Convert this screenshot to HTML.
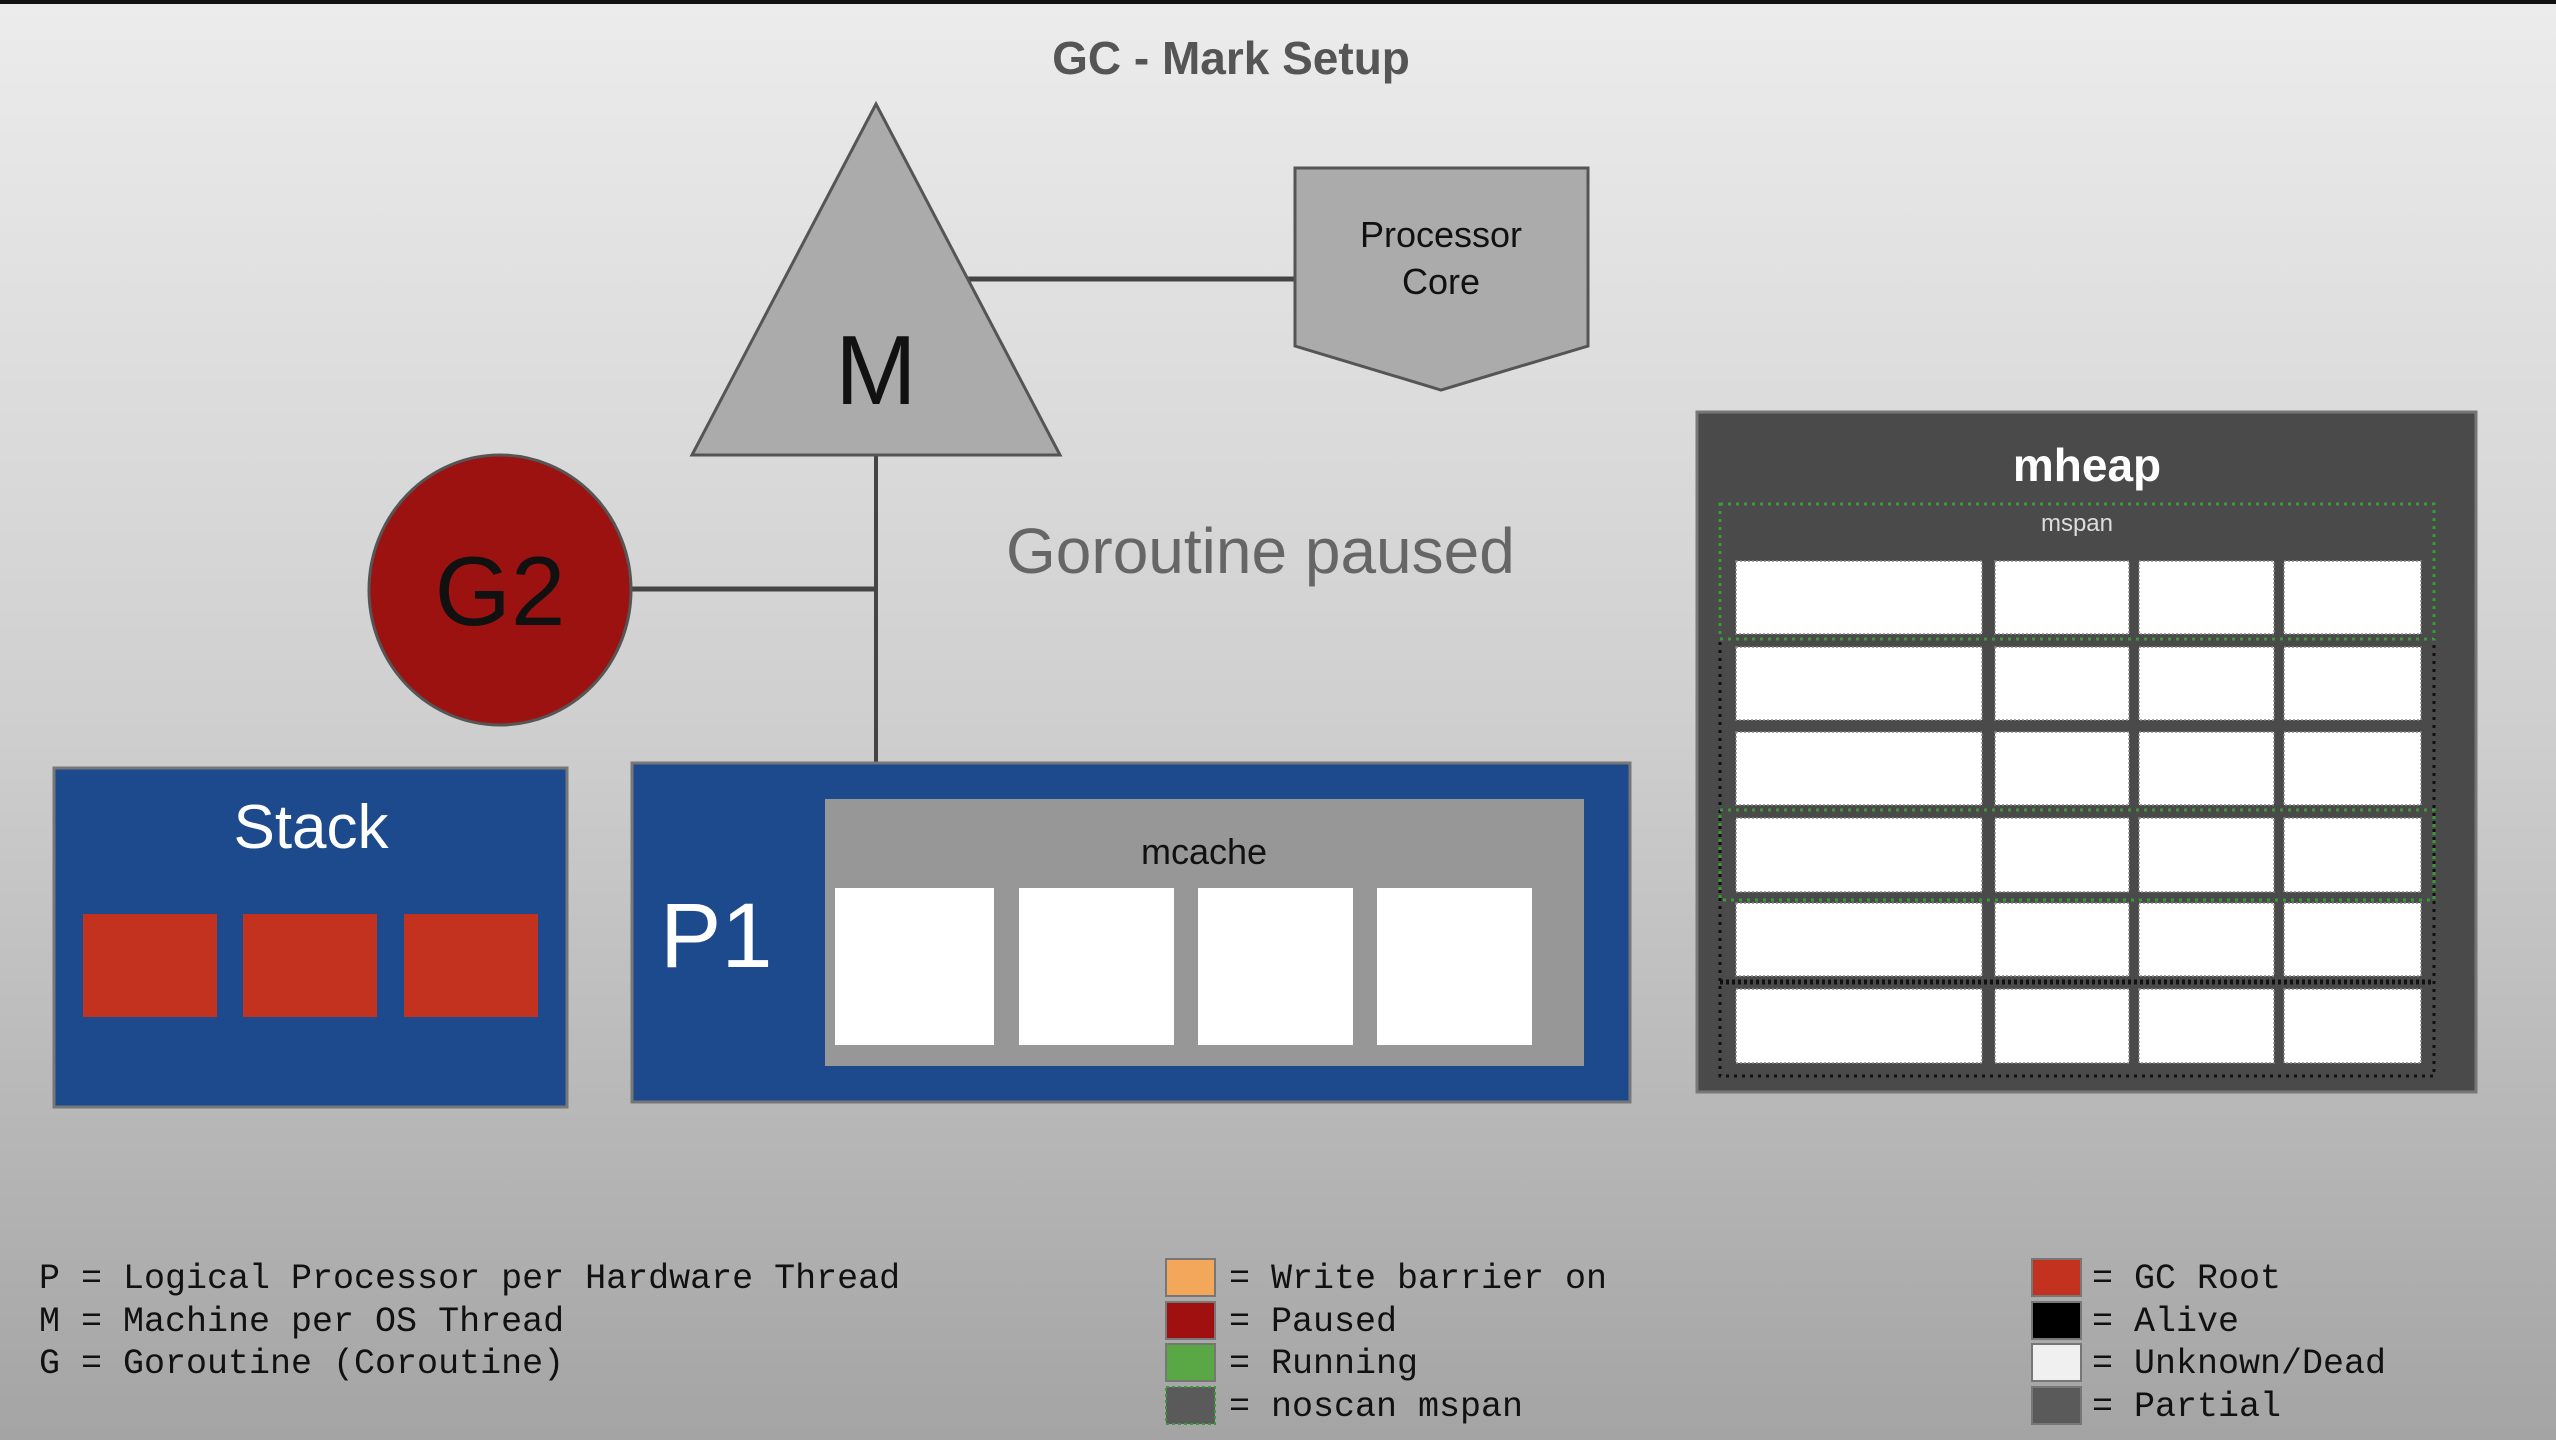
<!DOCTYPE html>
<html><head><meta charset="utf-8"><style>
html,body{margin:0;padding:0;width:2556px;height:1440px;overflow:hidden;}
svg{display:block}
text{font-family:"Liberation Sans",sans-serif;}
.mono{font-family:"Liberation Mono",monospace;font-size:35px;fill:#111;}
</style></head><body>
<svg width="2556" height="1440" viewBox="0 0 2556 1440" xmlns="http://www.w3.org/2000/svg">
<defs>
<linearGradient id="bg" x1="0" y1="0" x2="0" y2="1">
<stop offset="0" stop-color="#ececec"/><stop offset="0.5" stop-color="#cfcfcf"/><stop offset="1" stop-color="#a4a4a4"/>
</linearGradient>
</defs>
<rect width="2556" height="1440" fill="url(#bg)"/>
<rect width="2556" height="4" fill="#111"/>
<text x="1231" y="74" text-anchor="middle" font-size="46" font-weight="bold" fill="#555">GC - Mark Setup</text>

<!-- connectors -->
<line x1="960" y1="279" x2="1296" y2="279" stroke="#444" stroke-width="5"/>
<line x1="876" y1="455" x2="876" y2="765" stroke="#444" stroke-width="4"/>
<line x1="630" y1="589" x2="878" y2="589" stroke="#444" stroke-width="5"/>

<!-- M triangle -->
<polygon points="876,104 692,455 1060,455" fill="#ababab" stroke="#555" stroke-width="3"/>
<text x="876" y="404" text-anchor="middle" font-size="98" fill="#111">M</text>

<!-- Processor core -->
<polygon points="1295,168 1588,168 1588,346 1441,390 1295,346" fill="#ababab" stroke="#555" stroke-width="3"/>
<text x="1441" y="247" text-anchor="middle" font-size="36" fill="#111">Processor</text>
<text x="1441" y="294" text-anchor="middle" font-size="36" fill="#111">Core</text>

<!-- G2 -->
<ellipse cx="500" cy="590" rx="131" ry="135" fill="#9c1210" stroke="#555" stroke-width="3"/>
<text x="500" y="625" text-anchor="middle" font-size="98" fill="#111">G2</text>

<text x="1006" y="573" font-size="64" fill="#666">Goroutine paused</text>

<!-- Stack -->
<rect x="54" y="768" width="513" height="339" fill="#1d4a8c" stroke="#777" stroke-width="3"/>
<text x="311" y="848" text-anchor="middle" font-size="62" fill="#fff">Stack</text>
<rect x="83" y="914" width="134" height="103" fill="#c3311f"/>
<rect x="243" y="914" width="134" height="103" fill="#c3311f"/>
<rect x="404" y="914" width="134" height="103" fill="#c3311f"/>

<!-- P1 -->
<rect x="632" y="763" width="998" height="339" fill="#1d4a8c" stroke="#777" stroke-width="3"/>
<text x="660" y="967" font-size="92" fill="#fff">P1</text>
<rect x="825" y="799" width="759" height="267" fill="#979797"/>
<text x="1204" y="864" text-anchor="middle" font-size="36" fill="#111">mcache</text>
<rect x="835" y="888" width="159" height="157" fill="#fff"/>
<rect x="1019" y="888" width="155" height="157" fill="#fff"/>
<rect x="1198" y="888" width="155" height="157" fill="#fff"/>
<rect x="1377" y="888" width="155" height="157" fill="#fff"/>

<!-- mheap -->
<rect x="1697" y="412" width="779" height="680" fill="#4a4a4a" stroke="#777" stroke-width="3"/>
<text x="2087" y="481" text-anchor="middle" font-size="46" font-weight="bold" fill="#fff">mheap</text>
<rect x="1720" y="639" width="714" height="437" fill="none" stroke="#111" stroke-width="3" stroke-dasharray="3,5"/>
<rect x="1720" y="504" width="714" height="135" fill="none" stroke="#3a9a3a" stroke-width="3" stroke-dasharray="3,5"/>
<rect x="1720" y="810" width="714" height="90" fill="none" stroke="#3a9a3a" stroke-width="3" stroke-dasharray="3,5"/>
<text x="2077" y="531" text-anchor="middle" font-size="24" fill="#ddd">mspan</text>
<g fill="#fff" stroke="#888" stroke-width="1.5" stroke-dasharray="2,2">
<rect x="1736" y="561" width="246" height="73"/><rect x="1995" y="561" width="134" height="73"/><rect x="2139" y="561" width="135" height="73"/><rect x="2284" y="561" width="137" height="73"/>
<rect x="1736" y="647" width="246" height="73"/><rect x="1995" y="647" width="134" height="73"/><rect x="2139" y="647" width="135" height="73"/><rect x="2284" y="647" width="137" height="73"/>
<rect x="1736" y="732" width="246" height="73"/><rect x="1995" y="732" width="134" height="73"/><rect x="2139" y="732" width="135" height="73"/><rect x="2284" y="732" width="137" height="73"/>
<rect x="1736" y="818" width="246" height="74"/><rect x="1995" y="818" width="134" height="74"/><rect x="2139" y="818" width="135" height="74"/><rect x="2284" y="818" width="137" height="74"/>
<rect x="1736" y="903" width="246" height="73"/><rect x="1995" y="903" width="134" height="73"/><rect x="2139" y="903" width="135" height="73"/><rect x="2284" y="903" width="137" height="73"/>
<rect x="1736" y="989" width="246" height="74"/><rect x="1995" y="989" width="134" height="74"/><rect x="2139" y="989" width="135" height="74"/><rect x="2284" y="989" width="137" height="74"/>
</g>
<line x1="1720" y1="982" x2="2434" y2="982" stroke="#111" stroke-width="5" stroke-dasharray="3,3"/>

<!-- legend -->
<text class="mono" x="39" y="1288">P = Logical Processor per Hardware Thread</text>
<text class="mono" x="39" y="1331">M = Machine per OS Thread</text>
<text class="mono" x="39" y="1373">G = Goroutine (Coroutine)</text>

<rect x="1166" y="1259" width="49" height="37" fill="#f2a75a" stroke="#777" stroke-width="2"/>
<rect x="1166" y="1302" width="49" height="37" fill="#a01010" stroke="#777" stroke-width="2"/>
<rect x="1166" y="1344" width="49" height="37" fill="#5aa845" stroke="#777" stroke-width="2"/>
<rect x="1166" y="1387" width="49" height="37" fill="#5a5a5a" stroke="#3a9a3a" stroke-width="2" stroke-dasharray="3,3"/>
<text class="mono" x="1229" y="1288">= Write barrier on</text>
<text class="mono" x="1229" y="1331">= Paused</text>
<text class="mono" x="1229" y="1373">= Running</text>
<text class="mono" x="1229" y="1416">= noscan mspan</text>

<rect x="2032" y="1259" width="49" height="37" fill="#c3311f" stroke="#777" stroke-width="2"/>
<rect x="2032" y="1302" width="49" height="37" fill="#000" stroke="#777" stroke-width="2"/>
<rect x="2032" y="1344" width="49" height="37" fill="#f0f0f0" stroke="#777" stroke-width="2"/>
<rect x="2032" y="1387" width="49" height="37" fill="#5a5a5a" stroke="#777" stroke-width="2"/>
<text class="mono" x="2092" y="1288">= GC Root</text>
<text class="mono" x="2092" y="1331">= Alive</text>
<text class="mono" x="2092" y="1373">= Unknown/Dead</text>
<text class="mono" x="2092" y="1416">= Partial</text>
</svg>
</body></html>
